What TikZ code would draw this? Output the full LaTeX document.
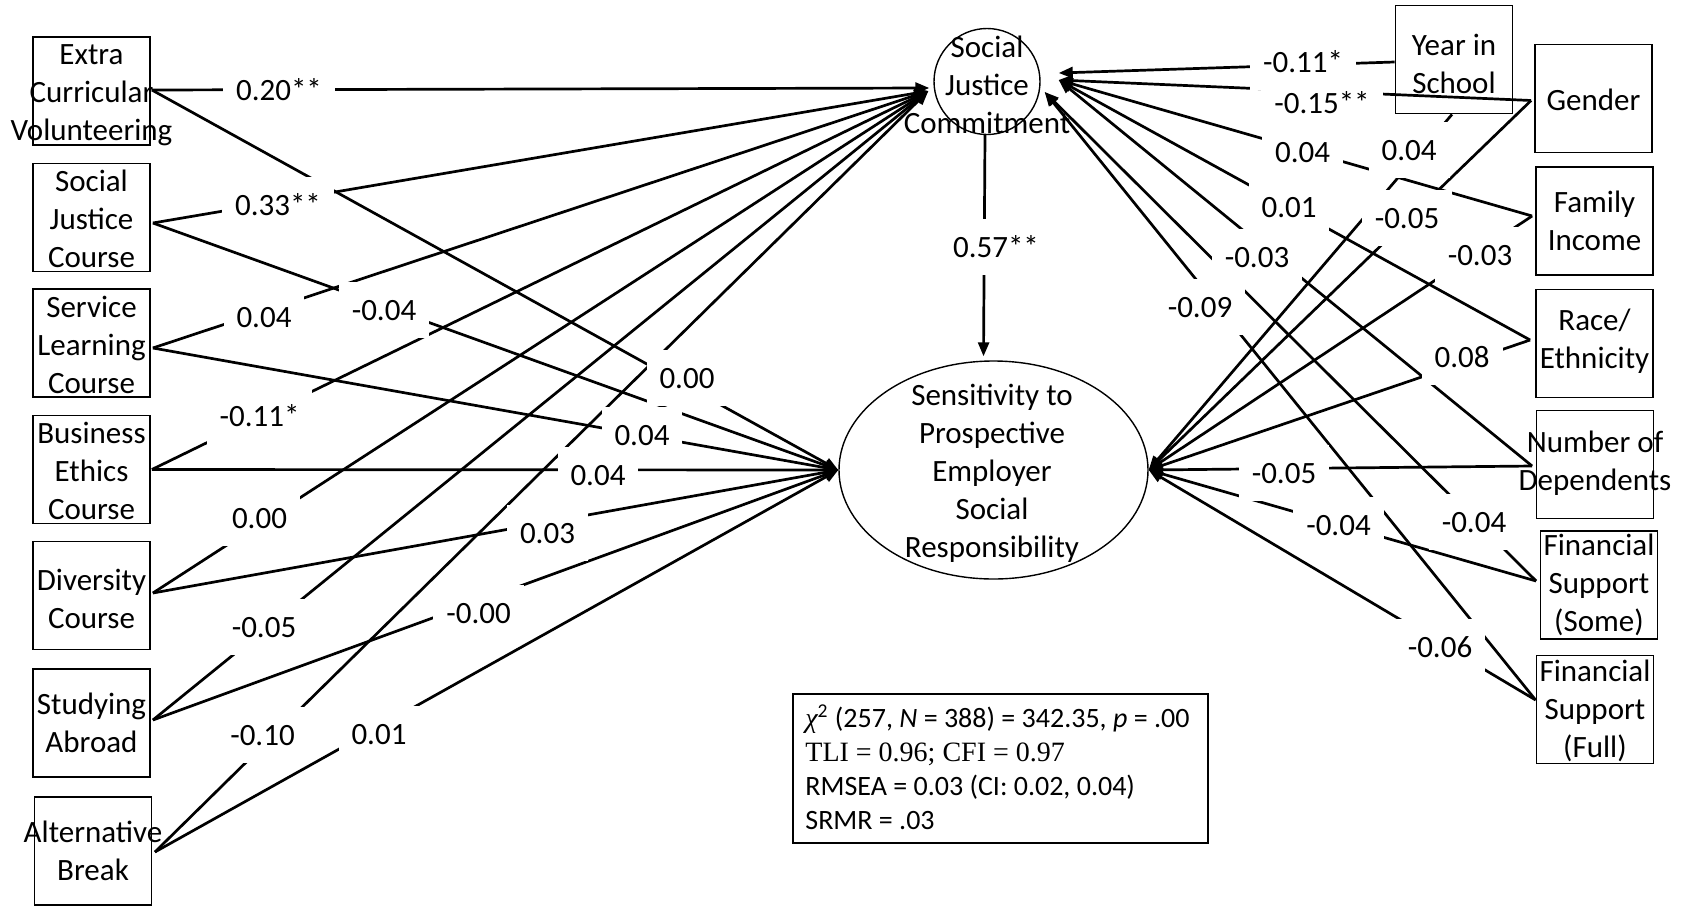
\documentclass[tikz,border=0pt]{standalone}
\usepackage{fontspec}
\setmainfont{Carlito}
\newfontfamily\statserif{Liberation Serif}
\usetikzlibrary{arrows.meta,shapes.geometric}
\newcommand{\dgmfont}{\fontsize{15.5pt}{19pt}\selectfont}
\newcommand{\statfont}{\fontsize{14pt}{17pt}\selectfont}

\begin{document}
\begin{tikzpicture}[x=0.5pt,y=-0.5pt,
  every node/.style={inner sep=0pt},
  varbox/.style={draw, line width=0.9pt, minimum width=58.5pt, minimum height=54pt},
  vartext/.style={font=\dgmfont, align=center},
  latent/.style={draw, line width=0.7pt},
  link/.style={line width=1.35pt, -{Triangle[length=7pt,width=5.5pt]}},
  coef/.style={fill=white, font=\dgmfont, inner xsep=6.5pt, inner ysep=0pt,
               text height=10.3pt, text depth=0pt, minimum height=28pt}]

\useasboundingbox (0,0) rectangle (1686,906);

% ---------- experiences (left column) ----------
\node[varbox] (ecv)  at (91.5,91.3)  {};
\node[varbox] (sjcc) at (91.5,217.4) {};
\node[varbox] (slc)  at (91.5,343.3) {};
\node[varbox] (bec)  at (91.5,469.5) {};
\node[varbox] (dc)   at (91.5,595.5) {};
\node[varbox] (sa)   at (91.5,723.3) {};
\node[varbox] (ab)   at (93,851)     {};
\node[vartext] (ecvT)  at ([yshift=-2.2pt]ecv)  {Extra\\Curricular\\Volunteering};
\node[vartext] (sjccT) at ([yshift=-0.6pt]sjcc) {Social\\Justice\\Course};
\node[vartext] (slcT)  at ([yshift=-1pt]slc)  {Service\\Learning\\Course};
\node[vartext] (becT)  at ([yshift=-0.6pt]bec)  {Business\\Ethics\\Course};
\node[vartext] (dcT)   at ([yshift=-1.5pt]dc)   {Diversity\\Course};
\node[vartext] (saT)   at (sa)   {Studying\\Abroad};
\node[vartext] (abT)   at (ab)   {Alternative\\Break};

% ---------- controls (right column) ----------
\node[varbox] (yis) at (1454,59.5)   {};
\node[varbox] (gen) at (1593.5,98.5) {};
\node[varbox] (fi)  at (1594.5,221)  {};
\node[varbox] (re)  at (1594.5,343.5){};
\node[varbox] (nod) at (1595,464.5)  {};
\node[varbox] (fss) at (1599,585)    {};
\node[varbox] (fsf) at (1595,709.5)  {};
\node[vartext] (yisT) at ([yshift=-2.2pt]yis) {Year in\\School};
\node[vartext] (genT) at ([yshift=-0.8pt]gen) {Gender};
\node[vartext] (fiT)  at (fi)  {Family\\Income};
\node[vartext] (reT)  at ([yshift=1pt]re)  {Race/\\Ethnicity};
\node[vartext] (nodT) at ([yshift=0.4pt]nod) {Number of\\Dependents};
\node[vartext] (fssT) at (fss) {Financial\\Support\\(Some)};
\node[vartext] (fsfT) at ([yshift=-0.8pt]fsf) {Financial\\Support\\(Full)};

% ---------- latent constructs ----------
\node[latent, circle, minimum size=53pt] (sjc) at (987,81.5) {};
\node[vartext] (sjcT) at (987,84.5) {Social\\Justice\\Commitment};
\node[latent, ellipse, minimum width=154.5pt, minimum height=109pt] (spesr) at (993.5,470) {};
\node[vartext] (spesrT) at (992,473) {Sensitivity to\\Prospective\\Employer\\Social\\Responsibility};

% ---------- fit statistics ----------
\node[draw, line width=0.9pt, minimum width=207.5pt, minimum height=74.5pt] (fit) at (1000.5,768.5) {};
\node[anchor=west, align=left, font=\statfont] (fitT) at (805,767) {%
  {\statserif\itshape χ}\textsuperscript{2} (257, \textit{N} = 388) = 342.35, \textit{p} = .00\\
  {\statserif TLI = 0.96; CFI = 0.97}\\
  RMSEA = 0.03 (CI: 0.02, 0.04)\\
  SRMR = .03};

% ---------- paths into Social Justice Commitment ----------
\draw[link] ([xshift=0.5pt,yshift=0.65pt]ecv.east) -- ([xshift=-2pt,yshift=-3.25pt]sjc.west);
\draw[link] ([xshift=1pt,yshift=-2.8pt]sjcc.east) -- ([xshift=-2.5pt,yshift=-4.75pt]sjc.west);
\draw[link] ([xshift=1pt,yshift=-2.35pt]slc.east) -- ([xshift=-2.5pt,yshift=-4.75pt]sjc.west);
\draw[link] ([xshift=0.5pt]bec.east) -- ([xshift=-2.5pt,yshift=-4.75pt]sjc.west);
\draw[link] ([xshift=1pt,yshift=1.25pt]dc.east) -- ([xshift=-2.5pt,yshift=-4.75pt]sjc.west);
\draw[link] ([xshift=1pt,yshift=1.65pt]sa.east) -- ([xshift=-2.5pt,yshift=-4.75pt]sjc.west);
\draw[link] ([xshift=1.25pt,yshift=-0.5pt]ab.east) -- ([xshift=-2.5pt,yshift=-4.75pt]sjc.west);

\draw[link] ([yshift=-1.25pt]yis.west) -- ([xshift=9pt,yshift=4.25pt]sjc.east);
\draw[link] ([xshift=-1.5pt,yshift=-1pt]gen.west) -- ([xshift=9pt,yshift=0.75pt]sjc.east);
\draw[link] ([xshift=-1.5pt,yshift=2.5pt]fi.west) -- ([xshift=9pt,yshift=0.75pt]sjc.east);
\draw[link] ([xshift=-2.5pt,yshift=1.75pt]re.west) -- ([xshift=9pt,yshift=0.75pt]sjc.east);
\draw[link] ([xshift=-1.75pt,yshift=-0.75pt]nod.west) -- ([xshift=9pt,yshift=0.75pt]sjc.east);
\draw[link] ([xshift=-1.75pt,yshift=2pt]fss.west) -- ([xshift=2pt,yshift=-5.25pt]sjc.east);
\draw[link] ([yshift=4.75pt]fsf.west) -- ([xshift=2pt,yshift=-5.25pt]sjc.east);

% ---------- paths into Sensitivity ----------
\draw[link] ([xshift=0.5pt,yshift=0.65pt]ecv.east) -- (spesr.west);
\draw[link] ([xshift=1pt,yshift=-2.8pt]sjcc.east) -- (spesr.west);
\draw[link] ([xshift=1pt,yshift=-2.35pt]slc.east) -- (spesr.west);
\draw[link] ([xshift=0.5pt]bec.east) -- (spesr.west);
\draw[link] ([xshift=1pt,yshift=1.25pt]dc.east) -- (spesr.west);
\draw[link] ([xshift=1pt,yshift=1.65pt]sa.east) -- (spesr.west);
\draw[link] ([xshift=1.25pt,yshift=-0.5pt]ab.east) -- (spesr.west);

\draw[link] ([xshift=-1pt]yis.south) -- (spesr.east);
\draw[link] ([xshift=-1.5pt,yshift=-1pt]gen.west) -- (spesr.east);
\draw[link] ([xshift=-1.5pt,yshift=2.5pt]fi.west) -- (spesr.east);
\draw[link] ([xshift=-2.5pt,yshift=1.75pt]re.west) -- (spesr.east);
\draw[link] ([xshift=-1.75pt,yshift=-0.75pt]nod.west) -- (spesr.east);
\draw[link] ([xshift=-1.75pt,yshift=2pt]fss.west) -- (spesr.east);
\draw[link] ([yshift=4.75pt]fsf.west) -- (spesr.east);

\draw[link] ([xshift=-1pt]sjc.south) -- ([xshift=-5pt,yshift=2pt]spesr.north);

% ---------- path coefficients ----------
\node[coef] (c01) at (279,90)     {0.20**};
\node[coef] (c02) at (278,205)    {0.33**};
\node[coef] (c03) at (384,310)    {-0.04};
\node[coef] (c04) at (264,317)    {0.04};
\node[coef] (c05) at (259.5,416.5){-0.11*};
\node[coef] (c06) at (259.5,518)  {0.00};
\node[coef] (c07) at (264,627)    {-0.05};
\node[coef] (c08) at (262.5,735)  {-0.10};
\node[coef] (c09) at (379,734)    {0.01};
\node[coef] (c10) at (478.6,613)  {-0.00};
\node[coef] (c11) at (547.5,533)  {0.03};
\node[coef] (c12) at (598,475)    {0.04};
\node[coef] (c13) at (642,435)    {0.04};
\node[coef] (c14) at (687,378)    {0.00};
\node[coef] (c15) at (996,247)    {0.57**};

\node[coef] (c16) at (1303,62)    {-0.11*};
\node[coef] (c17) at (1322,103)   {-0.15**};
\node[coef] (c18) at (1302.5,152) {0.04};
\node[coef] (c19) at (1409,150)   {0.04};
\node[coef] (c20) at (1289,207)   {0.01};
\node[coef] (c21) at (1407,218)   {-0.05};
\node[coef] (c22) at (1257,257)   {-0.03};
\node[coef] (c23) at (1480,255)   {-0.03};
\node[coef] (c24) at (1200,307)   {-0.09};
\node[coef] (c25) at (1462,357)   {0.08};
\node[coef] (c26) at (1284,473)   {-0.05};
\node[coef] (c27) at (1338.5,525) {-0.04};
\node[coef] (c28) at (1474,522)   {-0.04};
\node[coef] (c29) at (1440,647)   {-0.06};

\end{tikzpicture}
\end{document}
